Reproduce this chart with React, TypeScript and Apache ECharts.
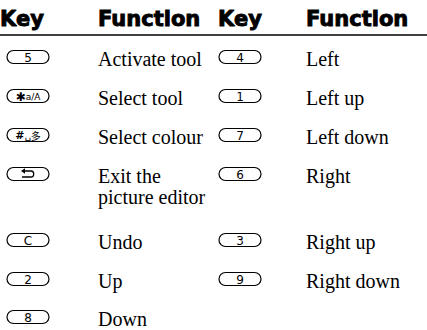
import React, { useEffect, useRef } from "react";
import * as echarts from "echarts";

const HEADERS = ["Key", "Function", "Key", "Function"];
const LEFT_KEYS = ["5", "*a/A", "#", "back", "C", "2", "8"];
const LEFT_FUNCS = ["Activate tool", "Select tool", "Select colour", "Exit the\npicture editor", "Undo", "Up", "Down"];
const RIGHT_KEYS = ["4", "1", "7", "6", "3", "9"];
const RIGHT_FUNCS = ["Left", "Left up", "Left down", "Right", "Right up", "Right down"];

echarts.graphic.registerShape(
  "backArrow",
  echarts.graphic.extendPath("M3 2 H10 C13.6 2 13.6 8 10 8 H1", {})
);

const SERIF = "'Liberation Serif', 'Times New Roman', serif";
const HEAD = "'DejaVu Sans', sans-serif";
const KEYFONT = "'DejaVu Sans', sans-serif";

function keyGlyph(label: string, cx: number, cy: number): any[] {
  if (label === "back") {
    return [
      { type: "backArrow", x: cx - 7, y: cy - 5, style: { stroke: "#000", fill: "none", lineWidth: 1.3 } },
      { type: "polygon", shape: { points: [[cx - 7, cy - 3], [cx - 3, cy - 5.8], [cx - 3, cy - 0.2]] }, style: { fill: "#000" } },
    ];
  }
  if (label === "*a/A") {
    return [{
      type: "text", x: cx, y: cy + 0.5,
      style: {
        text: "{a|✱}{b|a/A}", align: "center", verticalAlign: "middle", textAlign: "center", textVerticalAlign: "middle",
        rich: {
          a: { fontSize: 12, fontFamily: KEYFONT, fontWeight: "bold", fill: "#000" },
          b: { fontSize: 9, fontFamily: KEYFONT, fill: "#000" },
        },
      },
    }];
  }
  if (label === "#") {
    return [{
      type: "text", x: cx, y: cy + 0.5,
      style: {
        text: "{a|#}{b|␣}{c|多}", align: "center", verticalAlign: "middle", textAlign: "center", textVerticalAlign: "middle",
        rich: {
          a: { fontSize: 11, fontFamily: KEYFONT, fontWeight: "bold", fill: "#000" },
          b: { fontSize: 10, fontFamily: KEYFONT, fill: "#000" },
          c: { fontSize: 10, fontFamily: "'Noto Sans CJK SC'", fill: "#000" },
        },
      },
    }];
  }
  return [{
    type: "text", x: cx, y: cy + 0.5,
    style: {
      text: label, fontSize: 12, fontFamily: KEYFONT, fill: "#000",
      align: "center", verticalAlign: "middle", textAlign: "center", textVerticalAlign: "middle",
    },
  }];
}

export default function App() {
  const ref = useRef<HTMLDivElement>(null);
  useEffect(() => {
    if (!ref.current) return;
    const chart = echarts.init(ref.current, null, { renderer: "svg" });

    const rowCenters = [57, 96, 135, 174, 240, 279, 317];
    const fontSize = 20;
    const lineGap = 21;
    const colX = { key1: 0, pill1: 7, func1: 98, key2: 218, pill2: 219, func2: 306 };
    const pillW = 42;
    const pillH = 13;
    const els: any[] = [];

    const headX = [colX.key1, colX.func1, colX.key2, colX.func2];
    HEADERS.forEach((h, i) => {
      els.push({
        type: "text", x: headX[i], y: 19,
        style: {
          text: h, fontSize: 21, fontWeight: "bold", fontFamily: HEAD, fill: "#000", stroke: "#000", lineWidth: 0.9,
          align: "left", verticalAlign: "middle", textAlign: "left", textVerticalAlign: "middle",
        },
      });
    });
    els.push({ type: "line", shape: { x1: 0, y1: 35, x2: 427, y2: 35 }, style: { stroke: "#000", lineWidth: 1.5 } });

    const addRow = (key: string, func: string, pillX: number, funcX: number, cy: number) => {
      els.push({
        type: "rect", shape: { x: pillX, y: cy - pillH / 2, width: pillW, height: pillH, r: pillH / 2 },
        style: { fill: "#fff", stroke: "#000", lineWidth: 1.2 },
      });
      els.push(...keyGlyph(key, pillX + pillW / 2, cy));
      els.push({
        type: "text", x: funcX, y: cy + 2 - lineGap / 2,
        style: {
          text: func, fontSize, lineHeight: lineGap, fontFamily: SERIF, fill: "#000",
          align: "left", verticalAlign: "top", textAlign: "left", textVerticalAlign: "top",
        },
      });
    };

    LEFT_KEYS.forEach((k, i) => addRow(k, LEFT_FUNCS[i], colX.pill1, colX.func1, rowCenters[i]));
    RIGHT_KEYS.forEach((k, i) => addRow(k, RIGHT_FUNCS[i], colX.pill2, colX.func2, rowCenters[i]));

    chart.setOption({ animation: false, graphic: { elements: els } });
    return () => chart.dispose();
  }, []);
  return <div ref={ref} style={{ position: "absolute", left: 0, top: 0, width: 427, height: 330, background: "#fff" }} />;
}
